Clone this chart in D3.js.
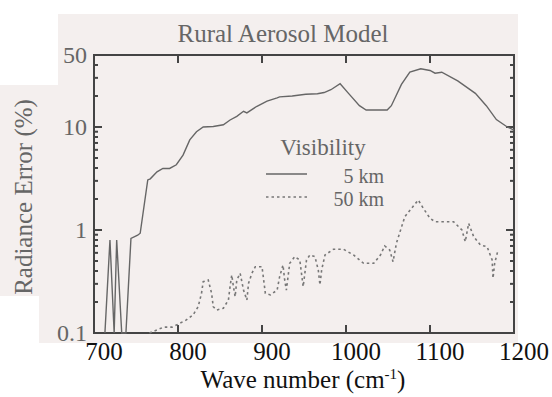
<!DOCTYPE html>
<html>
<head>
<meta charset="utf-8">
<script src="https://cdn.jsdelivr.net/npm/d3@7"></script>
<style>
  body { margin: 0; background: #fff; }
  text { font-family: "Liberation Serif", "DejaVu Serif", serif; }
</style>
</head>
<body>
<script>
// radiance error vs wave number, rural aerosol model
var wave5 = [713,719,724,727,733,738,744,752,755,764,767,775,782,790,798,806,814,822,830,842,
             854,862,870,878,882,894,906,918,921,936,952,966,974,982,993,1003,1016,1024,1049,1054,
             1066,1076,1089,1100,1106,1114,1133,1154,1167,1179,1192,1200];
var err5 = [0.1,0.8,0.1,0.8,0.1,0.1,0.83,0.89,0.93,3.06,3.14,3.67,3.96,3.96,4.3,5.33,7.5,9.0,10.0,10.1,
            10.5,11.7,12.7,14.2,13.7,15.9,17.8,19.2,19.6,20.0,20.8,21.0,21.6,23.0,26.3,21.2,16.1,14.6,14.6,16.1,
            25.9,34.2,36.8,35.4,33.3,34.0,28.0,21.2,16.1,11.8,10.0,9.3];

var wave50 = [766,783,793,802,810,818,824,828,830,836,840,842,846,854,860,862,864,866,868,870,
              874,878,882,884,888,892,900,902,904,910,918,921,925,927,929,933,939,945,949,953,
              957,963,967,969,971,975,985,997,1009,1021,1033,1041,1046,1052,1056,1060,1070,1078,1086,1092,
              1100,1106,1128,1138,1142,1146,1152,1160,1168,1174,1175,1177,1181];
var err50 = [0.1,0.114,0.114,0.124,0.134,0.15,0.18,0.243,0.315,0.327,0.243,0.18,0.167,0.174,0.209,0.282,0.366,0.282,0.225,0.327,
             0.38,0.261,0.209,0.304,0.38,0.44,0.44,0.327,0.243,0.234,0.261,0.352,0.457,0.327,0.261,0.475,0.551,0.511,0.282,0.511,
             0.572,0.551,0.409,0.293,0.409,0.572,0.65,0.65,0.572,0.475,0.475,0.572,0.70,0.64,0.492,0.743,1.346,1.625,1.955,1.625,
             1.30,1.204,1.204,1.0,0.77,1.161,0.861,0.715,0.688,0.511,0.34,0.475,0.64];

var xTicks = [700, 800, 900, 1000, 1100, 1200];
var yTicks = [0.1, 1, 10, 50];
var legendNames = ["5 km", "50 km"];

var width = 552, height = 397;
var plotL = 94, plotR = 514, plotT = 55, plotB = 333;
var ink = "#444", grey = "#666", paper = "#f4efee";

var svg = d3.select("body").append("svg")
    .attr("width", width)
    .attr("height", height);

// shaded scan background
svg.append("path")
    .attr("d", "M58,14H518V343H39V296H0V85H58Z")
    .attr("fill", paper);

var x = d3.scaleLinear().domain([700, 1200]).range([plotL, plotR]);
var y = d3.scaleLog().domain([0.1, 50]).range([plotB, plotT]).clamp(true);

// minor ticks 2..9 in every decade
var minor = [];
[0.1, 1, 10].forEach(function(d) {
  for (var k = 2; k <= 9; k++) if (d * k < 50) minor.push(d * k);
});

var frame = svg.append("g").attr("stroke", ink).attr("stroke-width", 2).attr("fill", "none");

// ticks point inward on all four sides
var xInner = xTicks.slice(1, -1);
frame.selectAll(".xb").data(xInner).enter().append("line")
    .attr("x1", d => x(d)).attr("x2", d => x(d))
    .attr("y1", plotB).attr("y2", plotB - 8);
frame.selectAll(".xt").data(xInner).enter().append("line")
    .attr("x1", d => x(d)).attr("x2", d => x(d))
    .attr("y1", plotT).attr("y2", plotT + 8);

[[plotL, 1], [plotR, -1]].forEach(function(side) {
  frame.selectAll(null).data([1, 10]).enter().append("line")
      .attr("x1", side[0]).attr("x2", side[0] + side[1] * 8)
      .attr("y1", d => y(d)).attr("y2", d => y(d));
  frame.selectAll(null).data(minor).enter().append("line")
      .attr("x1", side[0]).attr("x2", side[0] + side[1] * 4)
      .attr("y1", d => y(d)).attr("y2", d => y(d));
});

frame.append("rect")
    .attr("x", plotL).attr("y", plotT)
    .attr("width", plotR - plotL).attr("height", plotB - plotT);

// tick labels
svg.selectAll(".xl").data(xTicks).enter().append("text")
    .attr("x", d => x(d) + 10)
    .attr("y", 360)
    .attr("text-anchor", "middle")
    .attr("font-size", 25)
    .attr("fill", "#111")
    .text(d => d);

svg.selectAll(".yl").data(yTicks).enter().append("text")
    .attr("x", plotL - 7)
    .attr("y", d => y(d))
    .attr("dy", "0.34em")
    .attr("text-anchor", "end")
    .attr("font-size", 24)
    .attr("fill", grey)
    .text(d => d);

// titles
svg.append("text")
    .attr("x", 283).attr("y", 42)
    .attr("text-anchor", "middle")
    .attr("font-size", 25)
    .attr("fill", grey)
    .text("Rural Aerosol Model");

svg.append("text")
    .attr("transform", "translate(32," + ((plotT + plotB) / 2 + 3) + ") rotate(-90)")
    .attr("text-anchor", "middle")
    .attr("font-size", 25)
    .attr("fill", grey)
    .text("Radiance Error (%)");

var xTitle = svg.append("text")
    .attr("x", 303).attr("y", 388)
    .attr("text-anchor", "middle")
    .attr("font-size", 25)
    .attr("fill", "#111");
xTitle.append("tspan").text("Wave number (cm");
xTitle.append("tspan").attr("font-size", 15).attr("dy", -9).text("-1");
xTitle.append("tspan").attr("dy", 9).text(")");

// curves
var line = d3.line()
    .x(d => x(d[0]))
    .y(d => y(d[1]));

svg.append("path")
    .datum(d3.zip(wave5, err5))
    .attr("d", line)
    .attr("fill", "none")
    .attr("stroke", grey)
    .attr("stroke-width", 1.4);

svg.append("path")
    .datum(d3.zip(wave50, err50))
    .attr("d", line)
    .attr("fill", "none")
    .attr("stroke", "#777")
    .attr("stroke-width", 1.6)
    .attr("stroke-dasharray", "2.5,3");

// legend
var legend = svg.append("g");
legend.append("text")
    .attr("x", 323).attr("y", 155)
    .attr("text-anchor", "middle")
    .attr("font-size", 23)
    .attr("fill", grey)
    .text("Visibility");

legendNames.forEach(function(name, i) {
  var ly = 174 + i * 23;
  legend.append("line")
      .attr("x1", 266).attr("x2", 307)
      .attr("y1", ly).attr("y2", ly)
      .attr("stroke", i ? "#777" : grey)
      .attr("stroke-width", i ? 1.6 : 1.4)
      .attr("stroke-dasharray", i ? "2.5,3" : null);
  legend.append("text")
      .attr("x", 384).attr("y", ly + 9)
      .attr("text-anchor", "end")
      .attr("font-size", 20)
      .attr("fill", grey)
      .text(name);
});
</script>
</body>
</html>
